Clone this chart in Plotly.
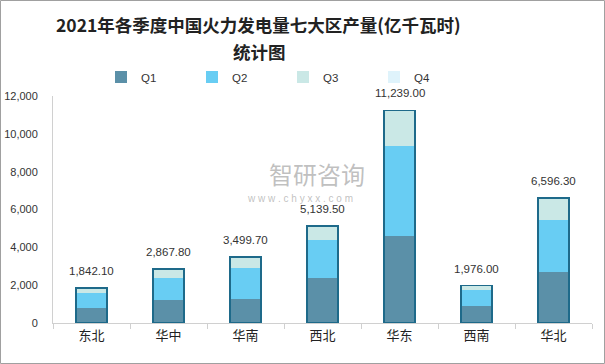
import plotly.graph_objects as go

regions = ["东北", "华中", "华南", "西北", "华东", "西南", "华北"]
q1 = [810, 1230, 1280, 2390, 4620, 910, 2710]
q2 = [750, 1160, 1640, 2010, 4740, 810, 2740]
q3 = [282.1, 477.8, 579.7, 739.5, 1879, 256, 1146.3]
q4 = [0, 0, 0, 0, 0, 0, 0]
totals = [1842.10, 2867.80, 3499.70, 5139.50, 11239.00, 1976.00, 6596.30]
yticks = [0, 2000, 4000, 6000, 8000, 10000, 12000]

colors = {"Q1": "#5B90A8", "Q2": "#68CDF3", "Q3": "#CAE8E6", "Q4": "#DFF3FB"}
series = [("Q1", q1), ("Q2", q2), ("Q3", q3), ("Q4", q4)]

W, H = 605, 364
ml, mr, mt, mb = 53, 13, 96, 41
pw, ph = W - ml - mr, H - mt - mb


def py(px):
    # pixel row (from top) -> paper y
    return (H - mb - px) / ph


def pxx(px):
    return (px - ml) / pw


fig = go.Figure()
for name, vals in series:
    fig.add_trace(go.Bar(
        x=regions, y=vals, name=name,
        marker=dict(color=colors[name], line=dict(width=0)),
        hoverinfo="skip",
    ))

fig.add_trace(go.Bar(
    x=regions, y=totals, xaxis="x2", showlegend=False,
    marker=dict(color="rgba(0,0,0,0)", line=dict(color="#1E6A8A", width=1.5)),
    hoverinfo="skip",
))

annotations = []
for r, t in zip(regions, totals):
    annotations.append(dict(
        x=r, y=t, xref="x", yref="y", text=f"{t:,.2f}", showarrow=False,
        yanchor="bottom", yshift=9,
        font=dict(size=11.5, color="#333333", family="Liberation Sans, Arial"),
    ))

annotations += [
    dict(text="<b>2021年各季度中国火力发电量七大区产量(亿千瓦时)</b>", x=pxx(258), xanchor="center",
         y=py(24), yanchor="middle", xref="paper", yref="paper", showarrow=False,
         font=dict(size=17.5, color="#222222", family="Noto Sans CJK SC")),
    dict(text="<b>统计图</b>", x=pxx(259), xanchor="center",
         y=py(51), yanchor="middle", xref="paper", yref="paper", showarrow=False,
         font=dict(size=17.5, color="#222222", family="Noto Sans CJK SC")),
    dict(text="智研咨询", x=pxx(317), xanchor="center", y=py(173), yanchor="middle",
         xref="paper", yref="paper", showarrow=False,
         font=dict(size=24, color="rgba(150,150,150,0.6)", family="Noto Sans CJK SC")),
    dict(text="w w w . c h y x x . c o m", x=pxx(300), xanchor="center", y=py(198),
         yanchor="middle", xref="paper", yref="paper", showarrow=False,
         font=dict(size=10, color="rgba(150,150,150,0.6)", family="Liberation Sans, Arial")),
]

fig.update_layout(
    width=W, height=H,
    margin=dict(l=ml, r=mr, t=mt, b=mb, autoexpand=False),
    barmode="stack", bargap=0.6,
    paper_bgcolor="white", plot_bgcolor="white",
    font=dict(family="Noto Sans CJK SC", color="#333333"),
    legend=dict(
        orientation="h", x=pxx(101), xanchor="left", y=py(77), yanchor="middle",
        entrywidth=46, entrywidthmode="pixels",
        font=dict(size=11.5, color="#333333", family="Liberation Sans, Arial"),
        itemwidth=30, traceorder="normal", bgcolor="rgba(0,0,0,0)",
    ),
    xaxis=dict(
        showline=True, linecolor="#D0D0D0", linewidth=1,
        ticks="outside", tickson="boundaries", ticklen=5, tickcolor="#D0D0D0",
        tickfont=dict(size=13, color="#222222", family="Noto Sans CJK SC"),
        showgrid=False, automargin=False,
    ),
    xaxis2=dict(overlaying="x", matches="x", visible=False),
    yaxis=dict(
        range=[0, 12000], tickvals=yticks,
        tickformat=",d", showgrid=False, zeroline=False,
        showline=True, linecolor="#D0D0D0", linewidth=1,
        tickfont=dict(size=11, color="#333333", family="Liberation Sans, Arial"),
        ticks="", ticklabelstandoff=12, automargin=False,
    ),
    shapes=[dict(
        type="rect", xref="paper", yref="paper",
        x0=(-ml + 0.5) / pw, x1=1 + (mr - 0.5) / pw,
        y0=(-mb + 0.5) / ph, y1=1 + (mt - 0.5) / ph,
        line=dict(color="#A0A0A0", width=1), fillcolor="rgba(0,0,0,0)", layer="below",
    )],
    annotations=annotations,
)

fig.write_html("out.html", config={"displayModeBar": False},
               post_script="document.body.style.margin='0';")
